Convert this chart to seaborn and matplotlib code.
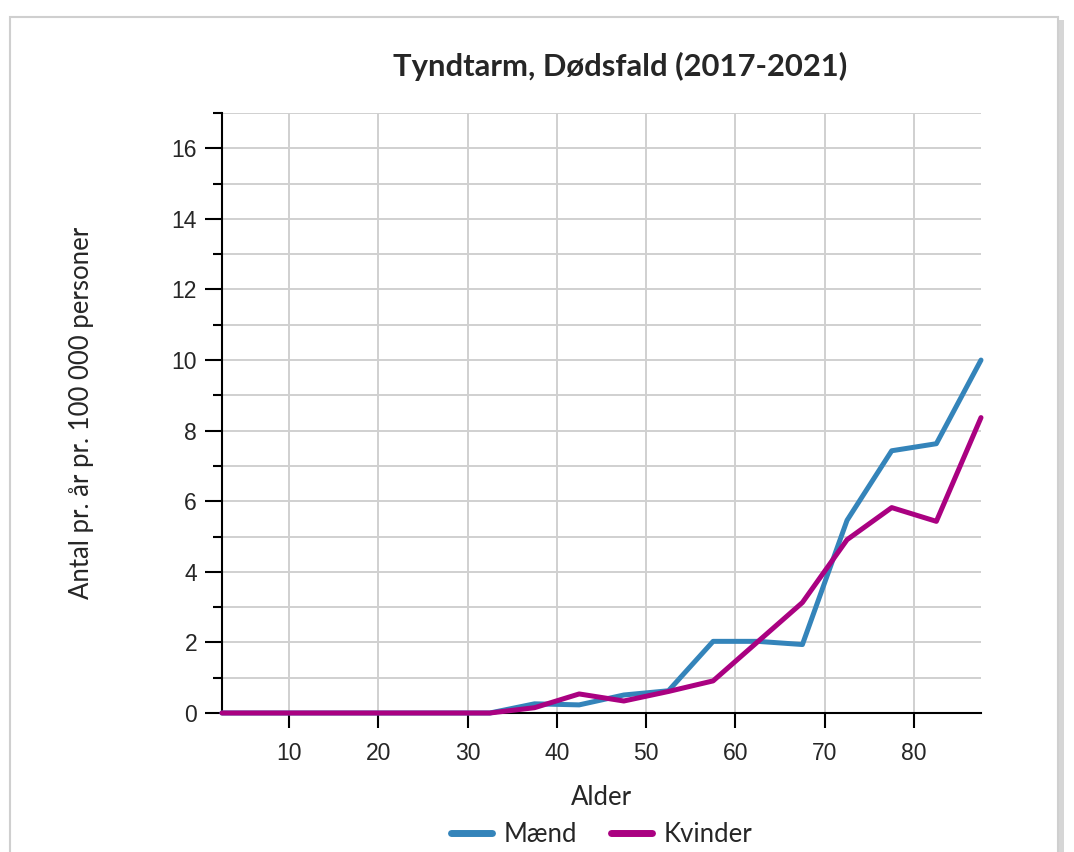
import numpy as np
import pandas as pd
import matplotlib
matplotlib.use("Agg")
import matplotlib.pyplot as plt
from matplotlib.patches import Rectangle
from matplotlib.ticker import MultipleLocator
import seaborn as sns

# aldersgrupper (midtpunkter) og rater pr. 100 000
alder = [2.5, 7.5, 12.5, 17.5, 22.5, 27.5, 32.5, 37.5, 42.5,
         47.5, 52.5, 57.5, 62.5, 67.5, 72.5, 77.5, 82.5, 87.5]
maend = [0, 0, 0, 0, 0, 0, 0, 0.26, 0.23,
         0.51, 0.63, 2.03, 2.03, 1.94, 5.46, 7.43, 7.63, 10.0]
kvinder = [0, 0, 0, 0, 0, 0, 0, 0.15, 0.54,
           0.34, 0.61, 0.91, 2.02, 3.13, 4.91, 5.82, 5.43, 8.37]
farver = {"Mænd": "#3484ba", "Kvinder": "#aa0181"}

df = pd.DataFrame({
    "Alder": alder * 2,
    "Rate": maend + kvinder,
    "Køn": ["Mænd"] * len(alder) + ["Kvinder"] * len(alder),
})

sns.set_style("white")
plt.rcParams["font.family"] = ["Liberation Sans", "DejaVu Sans"]
tekst_font = ["Lato", "DejaVu Sans"]

fig = plt.figure(figsize=(10.74, 8.52), dpi=100)
ax = fig.add_axes([222 / 1074, 139 / 852, 759 / 1074, 600 / 852])

# ramme rundt om figuren
fig.patches.append(Rectangle((13 / 1074, -0.05), 1051 / 1074, 1 - 20 / 852 + 0.05,
                             transform=fig.transFigure, facecolor="#d6d6d6",
                             edgecolor="none", zorder=-2))
fig.patches.append(Rectangle((10 / 1074, -0.05), 1048 / 1074, 1 - 17 / 852 + 0.05,
                             transform=fig.transFigure, facecolor="white",
                             edgecolor="#cfcfcf", linewidth=1.5, zorder=-1))

sns.lineplot(data=df, x="Alder", y="Rate", hue="Køn", palette=farver,
             linewidth=3.6, ax=ax, legend=True, zorder=5, clip_on=False)

ax.set_xlim(2.5, 87.5)
ax.set_ylim(0, 17)
ax.set_xticks(range(10, 90, 10))
ax.yaxis.set_major_locator(MultipleLocator(2))
ax.yaxis.set_minor_locator(MultipleLocator(1))
ax.grid(True, which="both", axis="y", color="#d0d0d0", linewidth=1.4)
ax.grid(True, which="major", axis="x", color="#d0d0d0", linewidth=1.4)
ax.set_axisbelow(True)

for s in ["top", "right"]:
    ax.spines[s].set_visible(False)
for s in ["left", "bottom"]:
    ax.spines[s].set_color("black")
    ax.spines[s].set_linewidth(1.5)

ax.tick_params(axis="x", which="major", direction="out", length=11, width=1.5,
               color="black", labelsize=16.5, pad=10, bottom=True)
ax.tick_params(axis="y", which="major", direction="out", length=12, width=1.5,
               color="black", labelsize=16.5, pad=6, left=True)
ax.tick_params(axis="y", which="minor", direction="out", length=6.5, width=1.5,
               color="black", left=True)

ax.set_xlabel("Alder", fontsize=18.5, family=tekst_font, labelpad=14)
ax.set_ylabel("Antal pr. år pr. 100 000 personer", fontsize=18.5, family=tekst_font, labelpad=56)
fig.text(620 / 1074, 1 - 66 / 852, "Tyndtarm, Dødsfald (2017-2021)", fontsize=22.3,
         fontweight="bold", family=tekst_font, ha="center", va="center")

handles, labels = ax.get_legend_handles_labels()
for h in handles:
    h.set_linewidth(5)
ax.legend(handles, labels, loc="center", bbox_to_anchor=(0.56, 18 / 852),
          bbox_transform=fig.transFigure, ncol=2, frameon=False,
          prop={"family": tekst_font, "size": 18.5}, handlelength=1.6,
          handletextpad=0.45, columnspacing=1.3)

fig.savefig("out.png", dpi=100)
